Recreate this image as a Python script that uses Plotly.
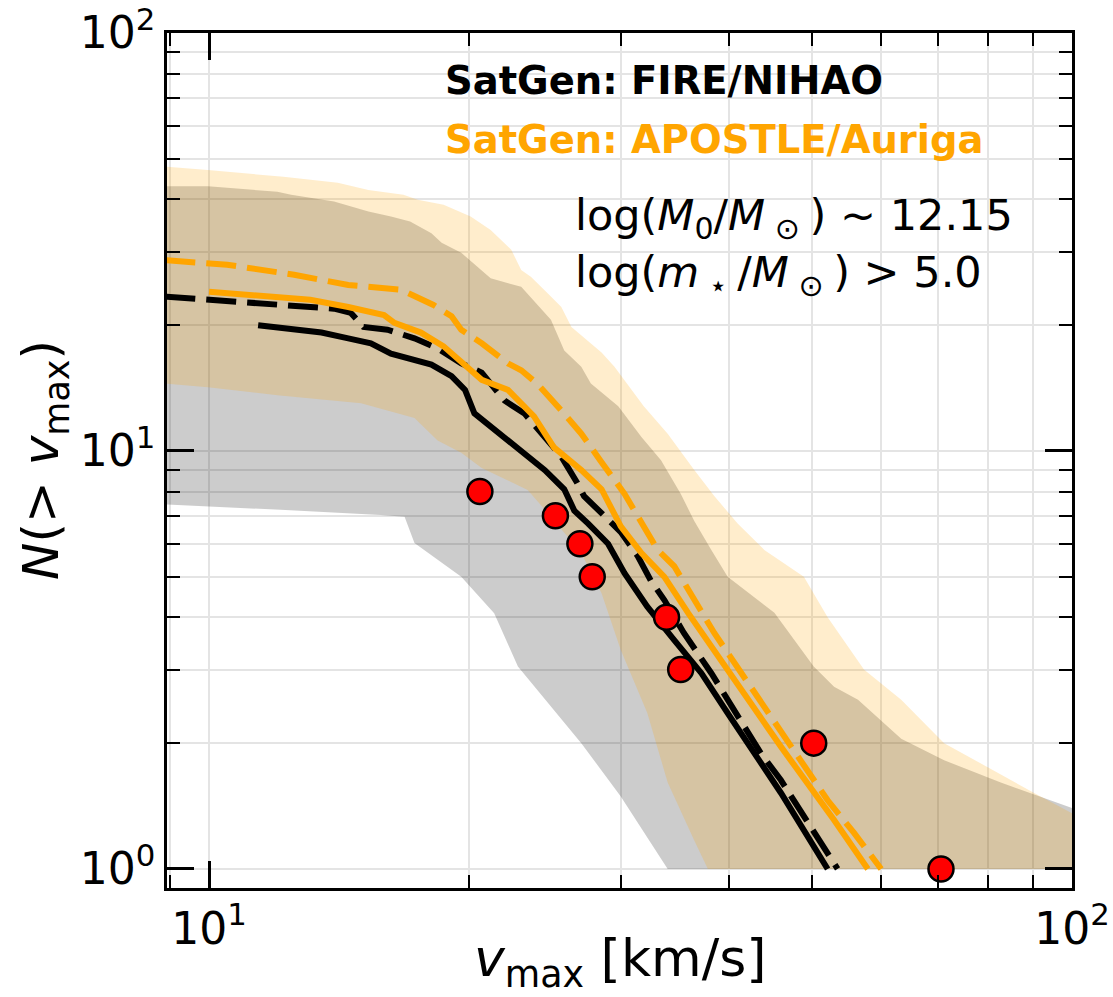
import plotly.graph_objects as go

# ---------------- data ----------------
# SatGen FIRE/NIHAO (black) - solid median
vmax_fire_solid = [11.4, 13.5, 14.5, 15.4, 16.25, 17.0, 18.1, 19.1, 19.8, 20.3, 20.7, 22.0, 23.4,
                   24.5, 25.8, 26.5, 27.5, 29.0, 30.3, 32.2, 34.6, 37.2, 39.9, 42.8, 46.0, 52.1]
N_fire_solid = [20.0, 19.2, 18.6, 18.1, 17.1, 16.7, 16.1, 15.1, 14.0, 12.3, 11.9, 10.8, 9.7,
                9.0, 8.1, 7.2, 6.7, 6.0, 5.1, 4.24, 3.53, 2.94, 2.36, 1.89, 1.52, 1.0]

# SatGen FIRE/NIHAO (black) - dashed
vmax_fire_dash = [8.9, 10.5, 12.55, 13.96, 14.6, 15.1, 16.1, 17.3, 18.4, 19.6, 20.7, 22.0, 23.2,
                  24.25, 25.6, 26.7, 27.2, 28.5, 30.0, 31.4, 32.5, 33.7, 35.5, 38.2, 40.6, 43.6, 46.0, 53.5]
N_fire_dash = [23.4, 22.8, 22.35, 21.9, 21.4, 19.8, 19.5, 18.6, 17.6, 16.2, 15.4, 13.2, 12.3,
               11.0, 9.7, 8.4, 7.8, 7.1, 6.4, 5.6, 4.9, 4.4, 3.67, 2.94, 2.40, 1.89, 1.63, 1.0]

# SatGen APOSTLE/Auriga (orange) - solid median
vmax_apo_solid = [10.0, 11.5, 13.1, 14.5, 15.95, 16.4, 17.6, 18.7, 19.9, 20.7, 22.2, 23.8, 25.1,
                  27.0, 28.5, 30.0, 31.7, 33.7, 35.9, 38.2, 40.6, 44.0, 46.0, 53.0, 58.0]
N_apo_solid = [24.05, 23.6, 23.0, 22.1, 21.15, 20.25, 19.2, 17.8, 15.9, 14.8, 14.0, 12.1, 10.2,
               9.0, 8.1, 6.6, 5.7, 5.0, 4.1, 3.4, 2.83, 2.24, 1.96, 1.31, 1.0]

# SatGen APOSTLE/Auriga (orange) - dashed
vmax_apo_dash = [8.9, 10.5, 12.55, 14.5, 16.7, 18.2, 19.1, 19.6, 20.7, 22.2, 23.0, 24.0, 25.6, 27.0,
                 28.5, 30.3, 31.9, 33.1, 34.6, 36.5, 38.5, 41.4, 44.0, 46.0, 52.1, 55.9, 60.1]
N_apo_dash = [28.6, 27.9, 26.4, 24.95, 24.3, 22.35, 21.0, 19.5, 18.1, 16.2, 15.6, 14.5, 12.5, 11.0,
              9.4, 7.9, 6.6, 5.8, 5.3, 4.4, 3.67, 2.94, 2.44, 2.12, 1.46, 1.22, 1.0]

# Scatter bands
apo_up_x = [8.9, 9.97, 12.2, 14.1, 15.3, 16.8, 17.45, 18.7, 20.1, 21.2, 22.4, 23.0, 23.6, 24.7, 25.6,
            26.3, 28.5, 29.5, 31.9, 34.0, 36.5, 38.5, 41.0, 44.0, 48.9, 52.1, 57.4, 63.4, 71.1, 90.4, 100]
apo_up_y = [47.9, 47.0, 45.3, 43.8, 42.1, 41.0, 39.9, 38.8, 36.4, 33.8, 30.3, 27.1, 26.1, 23.8, 22.1,
            19.8, 17.2, 15.9, 12.8, 11.0, 9.0, 7.8, 6.7, 5.8, 5.0, 4.0, 3.0, 2.54, 2.0, 1.52, 1.36]
apo_lo_x = [8.9, 9.97, 12.0, 15.0, 17.3, 18.4, 19.6, 20.7, 23.4, 24.7, 27.0, 28.5, 30.0, 32.2, 34.0,
            36.5, 37.85, 100]
apo_lo_y = [14.5, 14.2, 13.6, 13.0, 12.0, 10.6, 9.9, 9.1, 8.07, 7.1, 5.7, 4.57, 3.34, 2.36, 1.61,
            1.17, 1.0, 1.0]

fire_up_x = [8.9, 9.97, 12.0, 12.45, 13.96, 15.3, 16.25, 17.1, 18.1, 18.6, 19.6, 21.2, 23.0, 24.9,
             25.8, 27.0, 27.7, 29.8, 31.7, 33.4, 35.2, 36.5, 38.2, 39.9, 45.2, 50.2, 53.0, 56.5,
             63.4, 71.1, 82.7, 100]
fire_up_y = [43.0, 43.0, 41.7, 41.0, 39.5, 37.4, 36.4, 35.4, 33.2, 31.5, 29.8, 25.9, 24.7, 20.6,
             17.4, 15.9, 14.5, 12.8, 10.8, 9.5, 7.9, 6.8, 5.8, 5.0, 4.1, 3.05, 2.73, 2.54,
             2.05, 1.82, 1.61, 1.40]
fire_lo_x = [8.9, 12.1, 15.8, 16.85, 17.3, 19.6, 21.4, 22.8, 27.0, 30.0, 34.0, 100]
fire_lo_y = [7.45, 7.23, 7.03, 6.96, 6.02, 5.0, 4.09, 3.05, 2.0, 1.49, 1.0, 1.0]

# Observed satellites
vmax_obs = [20.6, 25.2, 26.9, 27.8, 33.9, 35.2, 50.2, 70.5]
N_obs = [8, 7, 6, 5, 4, 3, 2, 1]

# ---------------- figure ----------------
FONT = "DejaVu Sans"
fig = go.Figure()

def band(xu, yu, xl, yl, color):
    return go.Scatter(x=list(xu) + list(xl)[::-1], y=list(yu) + list(yl)[::-1],
                      fill="toself", fillcolor=color, mode="none",
                      line=dict(width=0), hoverinfo="skip", showlegend=False)

fig.add_trace(band(fire_up_x, fire_up_y, fire_lo_x, fire_lo_y, "rgba(0,0,0,0.2)"))
fig.add_trace(band(apo_up_x, apo_up_y, apo_lo_x, apo_lo_y, "rgba(255,165,0,0.2)"))

LW = 6
DASH = "30px,11px"
fig.add_trace(go.Scatter(x=vmax_fire_solid, y=N_fire_solid, mode="lines",
                         line=dict(color="black", width=LW), showlegend=False))
fig.add_trace(go.Scatter(x=vmax_fire_dash, y=N_fire_dash, mode="lines",
                         line=dict(color="black", width=LW, dash=DASH), showlegend=False))
fig.add_trace(go.Scatter(x=vmax_apo_solid, y=N_apo_solid, mode="lines",
                         line=dict(color="orange", width=LW), showlegend=False))
fig.add_trace(go.Scatter(x=vmax_apo_dash, y=N_apo_dash, mode="lines",
                         line=dict(color="orange", width=LW, dash=DASH), showlegend=False))
fig.add_trace(go.Scatter(x=vmax_obs, y=N_obs, mode="markers", cliponaxis=False,
                         marker=dict(color="red", size=25, line=dict(color="black", width=2.5)),
                         showlegend=False))

GRID = "#e4e4e4"
axis_common = dict(
    type="log", showline=True, linecolor="black", linewidth=2.5, mirror="allticks",
    ticks="inside", ticklen=27, tickwidth=2.5, tickcolor="black", automargin=False,
    showgrid=True, gridcolor=GRID, gridwidth=1.5, zeroline=False,
    tickfont=dict(family=FONT, size=44, color="black"),
    tickmode="array", tickvals=[1, 10, 100],
    ticktext=["10<sup>0</sup>", "10<sup>1</sup>", "10<sup>2</sup>"],
    minor=dict(ticks="inside", ticklen=13, tickwidth=2, tickcolor="black",
               showgrid=True, gridcolor=GRID, gridwidth=1.5,
               tickmode="array",
               tickvals=[2, 3, 4, 5, 6, 7, 8, 9, 20, 30, 40, 50, 60, 70, 80, 90]),
)

fig.update_xaxes(**axis_common, range=[0.9513, 2.0])
fig.update_yaxes(**axis_common, range=[-0.0455, 2.0])

ann = []
ann.append(dict(text="<b>SatGen: FIRE/NIHAO</b>", x=0.3050, y=0.945, xanchor="left", yanchor="middle",
                font=dict(family=FONT, size=38.5, color="black")))
ann.append(dict(text="<b>SatGen: APOSTLE/Auriga</b>", x=0.3050, y=0.8749, xanchor="left", yanchor="middle",
                font=dict(family=FONT, size=38.5, color="orange")))
ann.append(dict(text="log(<i>M</i><sub>0</sub>/<i>M</i><sub> ⊙ </sub>) ~ 12.15", x=0.4490, y=0.7836,
                xanchor="left", yanchor="middle", font=dict(family=FONT, size=43, color="black")))
ann.append(dict(text="log(<i>m</i><sub> ⋆ </sub>/<i>M</i><sub> ⊙ </sub>) > 5.0", x=0.4490, y=0.717,
                xanchor="left", yanchor="middle", font=dict(family=FONT, size=43, color="black")))
ann.append(dict(text="<i>v</i><sub>max</sub> [km/s]", x=0.5006, y=-0.0865, xanchor="center", yanchor="middle",
                font=dict(family=FONT, size=52, color="black")))
ann.append(dict(text="<i>N</i>(> <i>v</i><sub>max</sub>)", x=-0.1348, y=0.5006, xanchor="center",
                yanchor="middle", textangle=-90, font=dict(family=FONT, size=50, color="black")))
for a in ann:
    a.update(xref="paper", yref="paper", showarrow=False)

fig.update_layout(
    width=1113, height=997,
    margin=dict(l=167, r=41, t=33, b=109, autoexpand=False),
    paper_bgcolor="white", plot_bgcolor="white",
    annotations=ann, showlegend=False,
    font=dict(family=FONT),
)

fig.write_html("out.html")
